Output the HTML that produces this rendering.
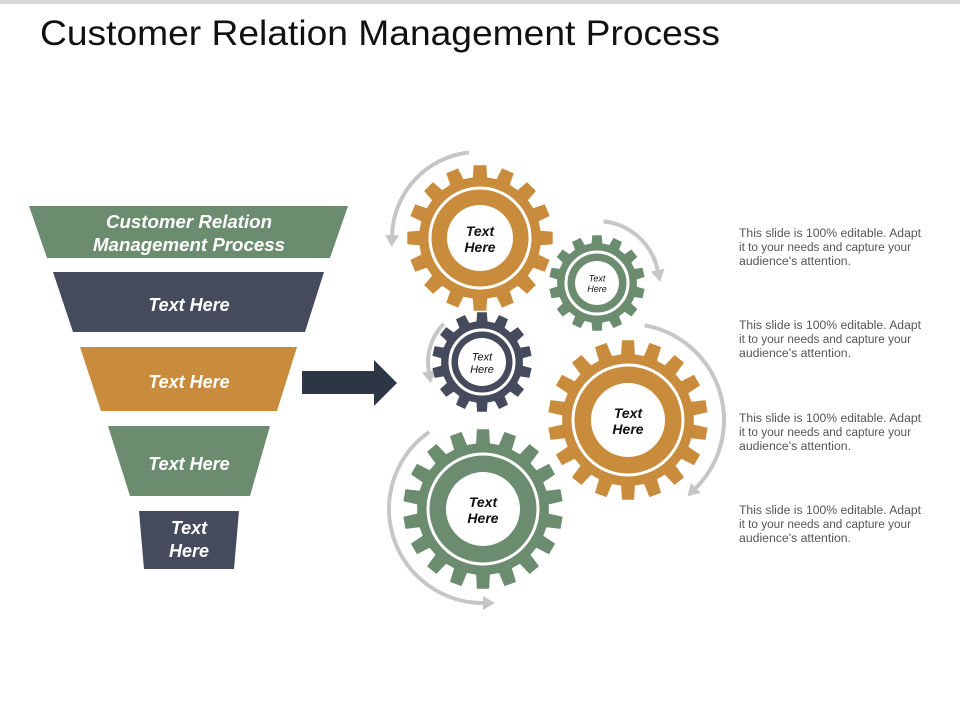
<!DOCTYPE html>
<html><head><meta charset="utf-8">
<style>
html,body{margin:0;padding:0;background:#fff;}
svg{display:block;}
text{font-family:"Liberation Sans",Arial,sans-serif;}
</style></head>
<body>
<svg id="s" width="960" height="720" viewBox="0 0 960 720" xmlns="http://www.w3.org/2000/svg">
<rect x="0" y="0" width="960" height="4" fill="#d9d9d9"/>
<text x="40" y="45" font-size="35" fill="#111" textLength="680" lengthAdjust="spacingAndGlyphs">Customer Relation Management Process</text>

<!-- funnel -->
<polygon points="29,206 348,206 330,258 47,258" fill="#6b8c6e"/>
<polygon points="53,272 324,272 305,332 73,332" fill="#454a5c"/>
<polygon points="80,347 297,347 277,411 101,411" fill="#c98c3c"/>
<polygon points="108,426 270,426 250,496 130,496" fill="#6b8c6e"/>
<polygon points="139,511 239,511 234,569 144,569" fill="#454a5c"/>
<g fill="#fff" font-weight="bold" font-style="italic" font-size="18" text-anchor="middle">
<text x="189" y="228" textLength="166" lengthAdjust="spacingAndGlyphs">Customer Relation</text>
<text x="189" y="251" textLength="192" lengthAdjust="spacingAndGlyphs">Management Process</text>
<text x="189" y="311">Text Here</text>
<text x="189" y="388">Text Here</text>
<text x="189" y="470">Text Here</text>
<text x="189" y="534">Text</text>
<text x="189" y="557">Here</text>
</g>
<polygon points="302,371 374,371 374,360 397,383 374,406 374,394 302,394" fill="#2c3644"/>

<g id="arcs" fill="none" stroke="#c6c6c6" stroke-width="4"></g>
<g id="gears"></g>

<g fill="#555" font-size="11.5">
<text x="739" y="237" textLength="182" lengthAdjust="spacingAndGlyphs">This slide is 100% editable. Adapt</text>
<text x="739" y="251" textLength="172" lengthAdjust="spacingAndGlyphs">it to your needs and capture your</text>
<text x="739" y="265" textLength="112" lengthAdjust="spacingAndGlyphs">audience's attention.</text>
<text x="739" y="329" textLength="182" lengthAdjust="spacingAndGlyphs">This slide is 100% editable. Adapt</text>
<text x="739" y="343" textLength="172" lengthAdjust="spacingAndGlyphs">it to your needs and capture your</text>
<text x="739" y="357" textLength="112" lengthAdjust="spacingAndGlyphs">audience's attention.</text>
<text x="739" y="422" textLength="182" lengthAdjust="spacingAndGlyphs">This slide is 100% editable. Adapt</text>
<text x="739" y="436" textLength="172" lengthAdjust="spacingAndGlyphs">it to your needs and capture your</text>
<text x="739" y="450" textLength="112" lengthAdjust="spacingAndGlyphs">audience's attention.</text>
<text x="739" y="514" textLength="182" lengthAdjust="spacingAndGlyphs">This slide is 100% editable. Adapt</text>
<text x="739" y="528" textLength="172" lengthAdjust="spacingAndGlyphs">it to your needs and capture your</text>
<text x="739" y="542" textLength="112" lengthAdjust="spacingAndGlyphs">audience's attention.</text>
</g>
</svg>
<script>
var NS="http://www.w3.org/2000/svg";
function el(p,n,a){var e=document.createElementNS(NS,n);for(var k in a)e.setAttribute(k,a[k]);p.appendChild(e);return e;}
var G=document.getElementById('gears'),A=document.getElementById('arcs');
function gear(cx,cy,ro,ri,n,col,ring,inner,fs,t1,t2){
 var d="",step=2*Math.PI/n;
 for(var i=0;i<n;i++){
  var a=i*step-Math.PI/2;
  var pts=[[ri,a-step*0.30],[ro,a-step*0.22],[ro,a+step*0.22],[ri,a+step*0.30],[ri,a+step*0.70]];
  pts.forEach(function(p,j){var x=cx+p[0]*Math.cos(p[1]),y=cy+p[0]*Math.sin(p[1]);d+=(i==0&&j==0?"M":"L")+x.toFixed(1)+","+y.toFixed(1);});
 }
 el(G,'path',{d:d+"Z",fill:col});
 el(G,'circle',{cx:cx,cy:cy,r:ring,fill:'none',stroke:'#fff','stroke-width':3});
 el(G,'circle',{cx:cx,cy:cy,r:inner,fill:'#fff'});
 var t=el(G,'text',{x:cx,y:cy-fs*0.15,'text-anchor':'middle','font-size':fs,'font-weight':fs>11?'bold':'normal','font-style':'italic',fill:'#111'});t.textContent=t1;
 t=el(G,'text',{x:cx,y:cy+fs*1.0,'text-anchor':'middle','font-size':fs,'font-weight':fs>11?'bold':'normal','font-style':'italic',fill:'#111'});t.textContent=t2;
}
function arc(cx,cy,r,a1,a2,ccw){
 var rad=Math.PI/180;
 var x1=cx+r*Math.cos(a1*rad),y1=cy+r*Math.sin(a1*rad),x2=cx+r*Math.cos(a2*rad),y2=cy+r*Math.sin(a2*rad);
 var sweep=ccw?0:1;var span=Math.abs(a2-a1);
 el(A,'path',{d:"M"+x1+","+y1+" A"+r+","+r+" 0 "+(span>180?1:0)+" "+sweep+" "+x2+","+y2});
 var dir=ccw?-1:1;var ta=(a2*rad)+dir*Math.PI/2;
 var tx=Math.cos(ta),ty=Math.sin(ta),nx=-ty,ny=tx;
 var L=12,W=7;
 var px=x2+tx*L,py=y2+ty*L;
 el(A,'polygon',{points:px+","+py+" "+(x2+nx*W)+","+(y2+ny*W)+" "+(x2-nx*W)+","+(y2-ny*W),fill:'#c6c6c6',stroke:'none'});
}
arc(478,238,86,-96,-178,true);
arc(597,283,62,-84,-12,false);
arc(482,362,54,-135,-190,true);
arc(628,420,96,-80,45,false);
arc(483,509,94,-125,-270,true);

gear(480,238,73,61,16,'#c98c3c',50,33,14,'Text','Here');
gear(597,283,48,40,14,'#6b8c6e',31,22,9,'Text','Here');
gear(482,362,50,41,14,'#454a5c',32,24,11,'Text','Here');
gear(628,420,80,66,18,'#c98c3c',55,37,14,'Text','Here');
gear(483,509,80,66,18,'#6b8c6e',55,37,14,'Text','Here');
</script>
</body></html>
